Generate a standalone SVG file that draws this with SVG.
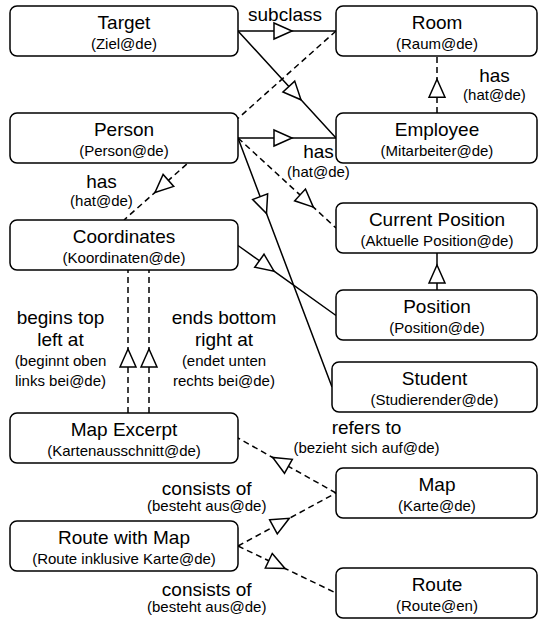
<svg xmlns="http://www.w3.org/2000/svg" width="538" height="622" viewBox="0 0 538 622">
<style>
.box{fill:#fff;stroke:#000;stroke-width:1.5}
.t{font-family:"Liberation Sans",Arial,sans-serif;font-size:19px;fill:#000;text-anchor:middle}
.s{font-family:"Liberation Sans",Arial,sans-serif;font-size:15px;fill:#000;text-anchor:middle}
.e{fill:none;stroke:#000;stroke-width:1.5;marker-mid:url(#tri)}
.d{stroke-dasharray:6 4}
</style>
<defs>
<marker id="tri" markerUnits="userSpaceOnUse" markerWidth="20" markerHeight="18" refX="18" refY="8" orient="auto" overflow="visible">
<path d="M0,0 L18,8 L0,16 Z" fill="#fff" stroke="#000" stroke-width="1.5" stroke-dasharray="none"/>
</marker>
</defs>
<rect width="538" height="622" fill="#fff"/>
<g id="connectors">
<polyline class="e" points="238,31 292,31 336,31"/>
<polyline class="e" points="238,31 301,99.8 336,138"/>
<polyline class="e" points="238,138 292,138 336,138"/>
<polyline class="e" points="238,138 266.5,213.5 332,387"/>
<polyline class="e d" points="238,138 313.3,207.1 336,228"/>
<polyline class="e d" points="336,31 155,192.4 124,220"/>
<polyline class="e d" points="437,113 437,79.3 437,56"/>
<polyline class="e" points="437,290 437,265 437,253"/>
<polyline class="e" points="238,245.5 274,271.2 336,315.5"/>
<polyline class="e d" points="128,413 128,349 128,270"/>
<polyline class="e d" points="149,413 149,349 149,270"/>
<polyline class="e d" points="336,493 272.7,457.5 238,438"/>
<polyline class="e d" points="238,546 289.3,518.3 336,493"/>
<polyline class="e d" points="238,546 285,568.5 336,593"/>
</g>
<g id="edge-labels">
<text class="t" x="285" y="20.5">subclass</text>
<text class="t" x="494.5" y="82">has</text>
<text class="s" x="494.5" y="100">(hat@de)</text>
<text class="t" x="318.5" y="158">has</text>
<text class="s" x="318.5" y="177">(hat@de)</text>
<text class="t" x="101.5" y="188">has</text>
<text class="s" x="101.5" y="206">(hat@de)</text>
<text class="t" x="60.5" y="323.5">begins top</text>
<text class="t" x="60.5" y="345.5">left at</text>
<text class="s" x="60.5" y="366">(beginnt oben</text>
<text class="s" x="60.5" y="385.5">links bei@de)</text>
<text class="t" x="224" y="323.5">ends bottom</text>
<text class="t" x="224" y="345.5">right at</text>
<text class="s" x="224" y="366">(endet unten</text>
<text class="s" x="224" y="385.5">rechts bei@de)</text>
<text class="t" x="366.5" y="433.5">refers to</text>
<text class="s" x="366.5" y="453">(bezieht sich auf@de)</text>
<text class="t" x="206.7" y="494.5">consists of</text>
<text class="s" x="206.7" y="511">(besteht aus@de)</text>
<text class="t" x="206.7" y="595.5">consists of</text>
<text class="s" x="206.7" y="612">(besteht aus@de)</text>
</g>
<g id="target"><rect class="box" x="10" y="6" width="228" height="50" rx="7"/><text class="t" x="124" y="29">Target</text><text class="s" x="124" y="49">(Ziel@de)</text></g>
<g id="person"><rect class="box" x="10" y="113" width="228" height="50" rx="7"/><text class="t" x="124" y="136">Person</text><text class="s" x="124" y="156">(Person@de)</text></g>
<g id="coordinates"><rect class="box" x="10" y="220" width="228" height="50" rx="7"/><text class="t" x="124" y="243">Coordinates</text><text class="s" x="124" y="263">(Koordinaten@de)</text></g>
<g id="map-excerpt"><rect class="box" x="10" y="413" width="228" height="50" rx="7"/><text class="t" x="124" y="436">Map Excerpt</text><text class="s" x="124" y="456">(Kartenausschnitt@de)</text></g>
<g id="route-with-map"><rect class="box" x="10" y="521" width="228" height="50" rx="7"/><text class="t" x="124" y="544">Route with Map</text><text class="s" x="124" y="564">(Route inklusive Karte@de)</text></g>
<g id="room"><rect class="box" x="336" y="6" width="201" height="50" rx="7"/><text class="t" x="437" y="29">Room</text><text class="s" x="437" y="49">(Raum@de)</text></g>
<g id="employee"><rect class="box" x="336" y="113" width="201" height="50" rx="7"/><text class="t" x="437" y="136">Employee</text><text class="s" x="437" y="156">(Mitarbeiter@de)</text></g>
<g id="current-position"><rect class="box" x="336" y="203" width="201" height="50" rx="7"/><text class="t" x="437" y="226">Current Position</text><text class="s" x="437" y="246">(Aktuelle Position@de)</text></g>
<g id="position"><rect class="box" x="336" y="290" width="201" height="50" rx="7"/><text class="t" x="437" y="313">Position</text><text class="s" x="437" y="333">(Position@de)</text></g>
<g id="student"><rect class="box" x="332" y="362" width="205" height="50" rx="7"/><text class="t" x="434.5" y="385">Student</text><text class="s" x="434.5" y="405">(Studierender@de)</text></g>
<g id="map"><rect class="box" x="336" y="468" width="201" height="50" rx="7"/><text class="t" x="437" y="491">Map</text><text class="s" x="437" y="511">(Karte@de)</text></g>
<g id="route"><rect class="box" x="336" y="568" width="201" height="50" rx="7"/><text class="t" x="437" y="591">Route</text><text class="s" x="437" y="611">(Route@en)</text></g>
</svg>
